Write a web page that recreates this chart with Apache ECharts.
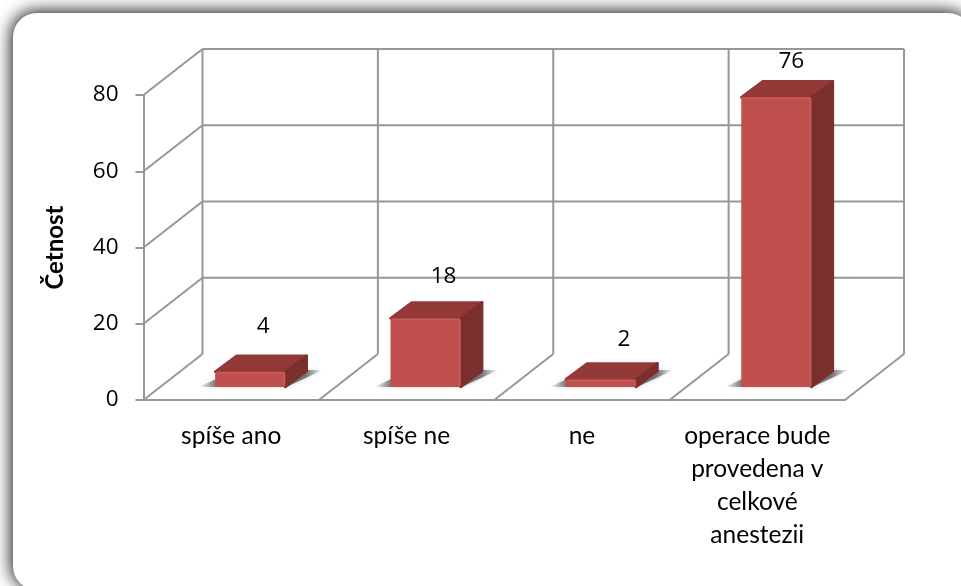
<!DOCTYPE html>
<html>
  <head>
    <meta charset="utf-8" />
    <title>Četnost</title>
    <script src="https://cdn.jsdelivr.net/npm/echarts@6/dist/echarts.min.js"></script>
    <style>
      html, body { margin: 0; padding: 0; background: #fff; }
      #box { width: 961px; height: 586px; }
    </style>
  </head>
  <body>
    <div id="box"></div>
    <script>
      var categories = ['spíše ano', 'spíše ne', 'ne', 'operace bude\nprovedena v\ncelkové\nanestezii'];
      var values = [4, 18, 2, 76];
      var yTicks = [0, 20, 40, 60, 80];
      var yName = 'Četnost';

      var FONT = 'Lato';
      var NUM_FONT = '"Open Sans"';
      var LINE = '#979797';
      // hloubka 3D "krabice" a sloupce v pixelech
      var WALL_DX = 59, WALL_DY = -46;
      var BAR_DX = 21.5, BAR_DY = -16, BAR_SHIFT = 19, BAR_LIFT = 13;
      // posun popisku od horni hrany sloupce
      var labelShift = [[13, -45], [18, -42], [23, -40], [15, -36]];

      function line(x1, y1, x2, y2) {
        return {
          type: 'line',
          shape: { x1: x1, y1: y1, x2: x2, y2: y2 },
          style: { stroke: LINE, lineWidth: 2 }
        };
      }

      // zadni stena a bocni stena - vodorovne mrizky
      function renderWall(params, api) {
        var p = api.coord([0, api.value(0)]);
        var band = api.size([1, 0])[0];
        var x0 = p[0] - band / 2;
        return {
          type: 'group',
          children: [
            line(x0, p[1], x0 + WALL_DX, p[1] + WALL_DY),
            line(x0 + WALL_DX, p[1] + WALL_DY, x0 + WALL_DX + band * categories.length, p[1] + WALL_DY)
          ]
        };
      }

      // podlaha a svisle cary zadni steny
      function renderFloor(params, api) {
        var i = params.dataIndex;
        var p = api.coord([0, 0]);
        var band = api.size([1, 0])[0];
        var top = api.coord([0, yTicks[yTicks.length - 1]])[1];
        var x0 = p[0] - band / 2 + band * i;
        return {
          type: 'group',
          children: [
            line(x0, p[1], x0 + WALL_DX, p[1] + WALL_DY),
            line(x0 + WALL_DX, p[1] + WALL_DY, x0 + WALL_DX, top + WALL_DY)
          ]
        };
      }

      function renderBar(params, api) {
        var i = api.value(0);
        var p = api.coord([i, api.value(1)]);
        var base = api.coord([i, 0]);
        var band = api.size([1, 0])[0];
        var w = band * 0.4;
        var l = p[0] + BAR_SHIFT - w / 2;
        var r = l + w;
        var t = p[1] - BAR_LIFT;
        var b = base[1] - BAR_LIFT;
        var s = labelShift[i];
        return {
          type: 'group',
          children: [
            { // stin na podlaze
              type: 'polygon',
              shape: { points: [[l - 16, b], [r + 1, b], [r + BAR_DX + 16, b + BAR_DY - 1], [l + 20, b + BAR_DY - 1]] },
              style: {
                fill: new echarts.graphic.LinearGradient(0, 0, 1, 0, [
                  { offset: 0, color: 'rgba(120,120,120,0)' },
                  { offset: 0.14, color: 'rgba(105,105,105,0.9)' },
                  { offset: 0.86, color: 'rgba(105,105,105,0.9)' },
                  { offset: 1, color: 'rgba(120,120,120,0)' }
                ]),
                shadowBlur: 4,
                shadowColor: 'rgba(150,150,150,0.5)'
              }
            },
            {
              type: 'polygon',
              shape: { points: [[l, t], [r, t], [r + BAR_DX, t + BAR_DY], [l + BAR_DX, t + BAR_DY]] },
              style: { fill: '#933a38', stroke: '#933a38', lineWidth: 2.5, lineJoin: 'round' }
            },
            {
              type: 'polygon',
              shape: { points: [[r, t], [r + BAR_DX, t + BAR_DY], [r + BAR_DX, b + BAR_DY], [r, b]] },
              style: { fill: '#7b302e', stroke: '#7b302e', lineWidth: 2.5, lineJoin: 'round' }
            },
            {
              type: 'rect',
              shape: { x: l, y: t, width: w, height: b - t, r: 2 },
              style: { fill: '#c0504d' }
            },
            { type: 'line', shape: { x1: l + 1, y1: t + 1, x2: r - 1, y2: t + 1 }, style: { stroke: '#c95c59', lineWidth: 1.5 } },
            { type: 'line', shape: { x1: r - 1, y1: t + 1, x2: r - 1, y2: b - 1 }, style: { stroke: '#c95c59', lineWidth: 1.5 } },
            {
              type: 'text',
              style: {
                x: p[0] + BAR_SHIFT + s[0],
                y: t + s[1],
                text: String(api.value(1)),
                font: '22.5px ' + NUM_FONT,
                fill: '#000',
                align: 'center',
                verticalAlign: 'middle'
              }
            }
          ]
        };
      }

      var myEcharts = echarts.init(document.getElementById('box'));
      var option = {
        animation: false,
        textStyle: { fontFamily: FONT },
        grid: { left: 143.5, right: 116, top: 95, bottom: 186, containLabel: false },
        // ramecek se stinem vlevo a nahore
        graphic: [{
          type: 'rect',
          z: -10,
          shape: { x: 13, y: 13, width: 959, height: 577, r: 24 },
          style: {
            fill: '#fff',
            shadowBlur: 18,
            shadowOffsetX: -1,
            shadowOffsetY: -1,
            shadowColor: 'rgba(0,0,0,1)'
          }
        }],
        xAxis: {
          type: 'category',
          data: categories,
          axisLine: { lineStyle: { color: LINE, width: 2 } },
          axisTick: { length: 8, lineStyle: { color: LINE, width: 2 } },
          axisLabel: { color: '#000', fontSize: 24.5, lineHeight: 33, margin: 20, interval: 0 }
        },
        yAxis: {
          type: 'value',
          min: 0,
          max: 80,
          interval: 20,
          name: yName,
          nameLocation: 'middle',
          nameGap: 76,
          nameTextStyle: { color: '#000', fontSize: 24, fontWeight: 'bold' },
          axisLine: { show: true, lineStyle: { color: LINE, width: 2 } },
          axisTick: { show: true, length: 8, lineStyle: { color: LINE, width: 2 } },
          axisLabel: { color: '#000', fontFamily: NUM_FONT, fontSize: 22.5, margin: 25 },
          splitLine: { show: false }
        },
        series: [
          { type: 'custom', renderItem: renderWall, data: yTicks.slice(1).map(function (v) { return [v]; }), encode: { y: 0 }, clip: false, silent: true, z: 1 },
          { type: 'custom', renderItem: renderFloor, data: categories.concat(['']).map(function (c, i) { return [i]; }), encode: { x: 0 }, clip: false, silent: true, z: 1 },
          { type: 'custom', renderItem: renderBar, data: values.map(function (v, i) { return [i, v]; }), encode: { x: 0, y: 1 }, clip: false, z: 3 }
        ]
      };
      myEcharts.setOption(option);
    </script>
  </body>
</html>
